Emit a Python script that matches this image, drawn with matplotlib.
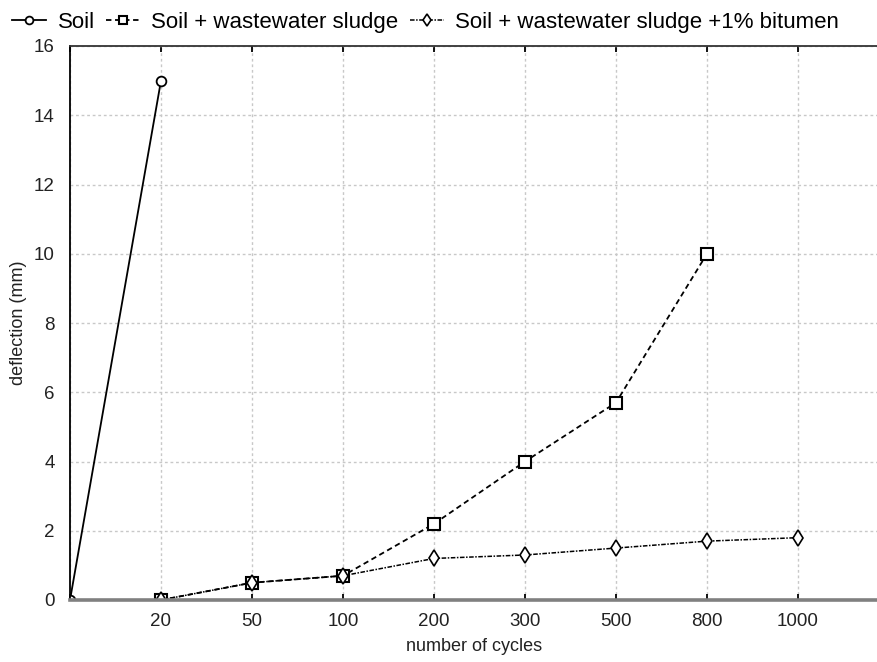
import matplotlib
matplotlib.use("Agg")
import matplotlib.pyplot as plt

plt.rcParams['font.family'] = ['Liberation Sans', 'DejaVu Sans']

# categories on the x axis (first one has no label)
cycles = ['', '20', '50', '100', '200', '300', '500', '800', '1000']

# deflection values (mm)
soil_x = [0, 1]
soil_y = [0, 15]
sludge_x = [1, 2, 3, 4, 5, 6, 7]
sludge_y = [0, 0.5, 0.7, 2.2, 4.0, 5.7, 10.0]
bitumen_x = [1, 2, 3, 4, 5, 6, 7, 8]
bitumen_y = [0, 0.5, 0.7, 1.2, 1.3, 1.5, 1.7, 1.8]

yticks = [0, 2, 4, 6, 8, 10, 12, 14, 16]

fig = plt.figure(figsize=(8.78, 6.62), dpi=100)
ax = fig.add_axes([70/878, 1-600/662, 1-70/878, (600-46)/662])

ax.plot(soil_x, soil_y, color='black', lw=1.3, ls='-', marker='o', ms=7,
        mfc='white', mec='black', mew=1.3, label='Soil')
ax.plot(sludge_x, sludge_y, color='black', lw=1.3, ls=(0, (3, 2)), marker='s', ms=8,
        mfc='white', mec='black', mew=1.5, label='Soil + wastewater sludge')
ax.plot(bitumen_x, bitumen_y, color='black', lw=1.1, ls=(0, (3, 1, 1, 1)), marker='d', ms=8,
        mfc='white', mec='black', mew=1.2, label='Soil + wastewater sludge +1% bitumen')

ax.set_xlim(0, 808/91)
ax.set_ylim(0, 16)
ax.set_xticks(range(len(cycles)))
ax.set_xticklabels(cycles)
ax.set_yticks(yticks)

ax.grid(True, color='#c8c8c8', ls=(0, (2, 2)), lw=1.0)
ax.set_axisbelow(True)

ax.spines['right'].set_visible(False)
ax.spines['left'].set_linewidth(1.3)
ax.spines['top'].set_linewidth(1.3)
ax.spines['top'].set_color('#333333')
ax.spines['bottom'].set_linewidth(2.6)
ax.spines['bottom'].set_color('#808080')
ax.spines['bottom'].set_zorder(5)

ax.tick_params(axis='x', direction='in', length=4, width=1.3, top=True, bottom=True,
               labelsize=13.5, pad=9, colors='black', labelcolor='#222222')
ax.tick_params(axis='y', length=0, labelsize=13.5, pad=11, labelcolor='#222222')

ax.set_xlabel('number of cycles', fontsize=13, labelpad=6, color='#222222')
ax.set_ylabel('deflection (mm)', fontsize=13, labelpad=5, color='#222222')

fig.legend(loc='center left', bbox_to_anchor=(12/878, 1-22.5/662), ncol=3, frameon=False,
           fontsize=16, handlelength=1.55, handletextpad=0.5, columnspacing=0.5,
           borderpad=0, borderaxespad=0, markerscale=0.8)

fig.savefig('out.png', dpi=100)
